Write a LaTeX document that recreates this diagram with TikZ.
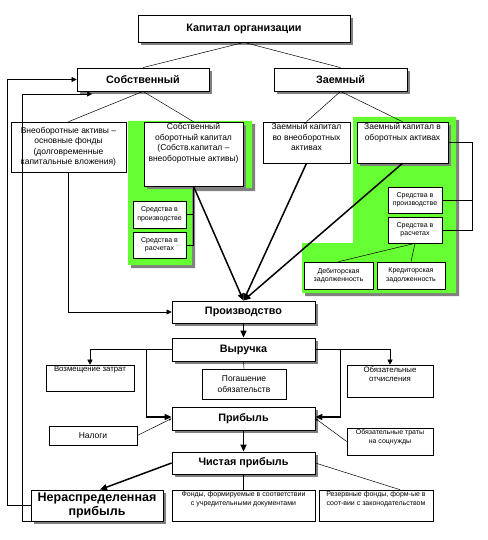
\documentclass[tikz,border=0pt]{standalone}
\usepackage{fontspec}
\setmainfont{Liberation Sans}
\usetikzlibrary{arrows.meta,shadows}

\definecolor{zelen}{RGB}{102,255,51}
\definecolor{ten}{RGB}{128,128,128}

\newcommand{\shriftMain}{\fontsize{10.8}{12.5}\selectfont\bfseries}
\newcommand{\shriftMid}{\fontsize{8.5}{10.5}\selectfont}
\newcommand{\shriftSmall}{\fontsize{7}{8.5}\selectfont}
\newcommand{\shriftNote}{\fontsize{7.8}{9.2}\selectfont}
% text at the top of a fixed box
\newcommand{\topbox}[3]{\parbox[c][#2][t]{#1}{\centering\vspace*{1.5pt}#3\par}}

\tikzset{
	box/.style={draw, fill=white, line width=0.6pt, align=center, inner sep=1pt},
	shad/.style={drop shadow={shadow xshift=3pt, shadow yshift=-3pt, fill=ten, opacity=1}},
	mainbox/.style={box, shad, line width=0.8pt, font=\shriftMain},
	line/.style={line width=0.5pt},
	arr/.style={line, -{Triangle[length=5pt,width=5pt]}},
	fat/.style={line width=1.5pt, -{Triangle[length=7pt,width=6pt]}}
}

\begin{document}
\begin{tikzpicture}[x=1pt, y=-1pt]
\useasboundingbox (0,0) rectangle (487,540);

% Green areas
\fill[zelen, shad] (128,121) -- (252,121) -- (252,188) -- (192,188)
	-- (192,265) -- (128,265) -- cycle;
\fill[zelen, shad] (353,117) -- (456,117) -- (456,293) -- (302,293)
	-- (302,243) -- (353,243) -- cycle;

% Top levels
\node[mainbox, minimum width=212pt, minimum height=27pt] (Kapital) at (244,28.5) {Капитал организации};
\node[mainbox, minimum width=132pt, minimum height=23pt] (Sobstv) at (143,79.5) {Собственный};
\node[mainbox, minimum width=133pt, minimum height=23pt] (Zaem) at (340.5,79.5) {Заемный};

% Kinds of capital
\node[box, font=\shriftMid, minimum width=115pt, minimum height=50pt] (Vneob) at (68.5,147)
	{Внеоборотные активы –\\основные фонды\\(долговременные\\капитальные вложения)};
\node[box, shad, font=\shriftMid, inner sep=0pt] (SobOb) at (193.5,154)
	{\topbox{99pt}{64pt}{Собственный\\оборотный капитал\\(Собств.капитал –\\внеоборотные активы)}};
\node[box, font=\shriftMid, inner sep=0pt] (ZVneob) at (306.5,142.5)
	{\topbox{87pt}{41pt}{Заемный капитал\\во внеоборотных\\активах}};
\node[box, shad, font=\shriftMid, inner sep=0pt] (ZOb) at (402.5,142.5)
	{\topbox{91pt}{41pt}{Заемный капитал в\\оборотных активах}};

% Small boxes
\node[box, font=\shriftSmall, minimum width=53pt, minimum height=27pt] (SProdL) at (159.5,214.5) {Средства в\\производстве};
\node[box, font=\shriftSmall, minimum width=53pt, minimum height=26pt] (SRasL) at (159.5,245) {Средства в\\расчетах};
\node[box, font=\shriftSmall, minimum width=54pt, minimum height=26pt] (SProdR) at (415,200) {Средства в\\производстве};
\node[box, font=\shriftSmall, minimum width=54pt, minimum height=26pt] (SRasR) at (415,230) {Средства в\\расчетах};
\node[box, font=\shriftSmall, minimum width=69pt, minimum height=27pt] (Debit) at (338.5,275.5) {Дебиторская\\задолженность};
\node[box, font=\shriftSmall, minimum width=68pt, minimum height=27pt] (Kredit) at (411,275.5) {Кредиторская\\задолженность};

% Production chain
\node[mainbox, minimum width=143pt, minimum height=22pt] (Proizv) at (243.5,312) {Производство};
\node[mainbox, minimum width=143pt, minimum height=23pt] (Vyruchka) at (243.5,349.5) {Выручка};
\node[box, font=\shriftNote, inner sep=0pt] (Vozm) at (90,378) {\topbox{88pt}{26pt}{Возмещение затрат}};
\node[box, font=\shriftMid, minimum width=84pt, minimum height=30pt] (Pogash) at (244,384) {Погашение\\обязательств};
\node[box, font=\shriftNote, inner sep=0pt] (Otchisl) at (390,381) {\topbox{86pt}{32pt}{Обязательные\\отчисления}};
\node[mainbox, minimum width=143pt, minimum height=23pt] (Pribyl) at (243.5,418.5) {Прибыль};
\node[box, font=\shriftMid, minimum width=88pt, minimum height=19pt] (Nalogi) at (93,435.5) {Налоги};
\node[box, font=\shriftSmall, inner sep=0pt] (Traty) at (390,441.5) {\topbox{86pt}{27pt}{Обязательные траты\\на соцнужды}};
\node[mainbox, minimum width=143pt, minimum height=22pt] (Chist) at (243.5,463) {Чистая прибыль};
\node[mainbox, font=\fontsize{12.5}{14.5}\selectfont\bfseries, inner sep=0pt,
	minimum width=132pt, minimum height=31pt] (Nerasp) at (97,505.5) {Нераспределенная\\прибыль};
\node[box, font=\shriftSmall, inner sep=0pt] (Fondy) at (243.5,505.5)
	{\topbox{143pt}{31pt}{Фонды, формируемые в соответствии\\с учредительными документами}};
\node[box, font=\shriftSmall, inner sep=0pt] (Rezerv) at (376,505.5)
	{\topbox{114pt}{31pt}{Резервные фонды, форм-ые в\\соот-вии с законодательством}};

% Tree lines
\draw[line] (Kapital.south) -- (Sobstv.north);
\draw[line] (Kapital.south) -- (Zaem.north);
\draw[line] (Sobstv.south) -- (Vneob.north);
\draw[line] (Sobstv.south) -- (SobOb.north);
\draw[line] (Zaem.south) -- (ZVneob.north);
\draw[line] (Zaem.south) -- (ZOb.north);

% Brackets
\draw[line] (SobOb.south) |- (SRasL.east);
\draw[line] (SProdL.east) -- (SProdL.east -| SobOb.south);
\coordinate (RBr) at (472,143);
\draw[line] (ZOb.east) -- (ZOb.east -| RBr) |- (SRasR.east);
\draw[line] (SProdR.east) -- (SProdR.east -| RBr);
\draw[line] (SRasR.south) -- (Debit.north);
\draw[line] (SRasR.south) -- (Kredit.north);

% Into production
\foreach \src in {SobOb, ZVneob, ZOb}
	\draw[fat] (\src.south) -- (Proizv.north);
\draw[arr] (Vneob.south) |- (Proizv.west);

% Revenue
\draw[fat] (Proizv.south) -- (Vyruchka.north);
\draw[arr] (Vyruchka.west) -| (Vozm.north);
\draw[arr] (Vyruchka.east) -| (Otchisl.north);
\draw[line] (Vyruchka.south) -- (Pogash.north);
\draw[fat] (Vyruchka.west) -- ++(-25,0) |- ([yshift=1.5pt]Pribyl.west);
\draw[fat] (Vyruchka.east) -- ++(25,0) |- ([yshift=1.5pt]Pribyl.east);

% Profit
\draw[line, -{Stealth[length=3pt,width=2.5pt]}] (Nalogi.east) -- (Pribyl.west);
\draw[line, -{Stealth[length=3pt,width=2.5pt]}] (Traty.west) -- (Pribyl.east);
\draw[fat] (Pribyl.south) -- (Chist.north);
\draw[fat] (Chist.west) -- ([xshift=3pt]Nerasp.north);
\draw[line] (Chist.east) -- ([xshift=24pt]Rezerv.north);
\draw[line] (Chist.south) -- (Fondy.north);

% Back to own capital
\coordinate (FbA) at (7,79.5);
\coordinate (FbB) at (22,94);
\coordinate (FbEnd) at (92,94);
\draw[arr] (Nerasp.west) -| (FbA) -- (Sobstv.west);
\draw[arr] (Nerasp.south west) -| (FbB) -- (FbEnd);

\end{tikzpicture}
\end{document}
